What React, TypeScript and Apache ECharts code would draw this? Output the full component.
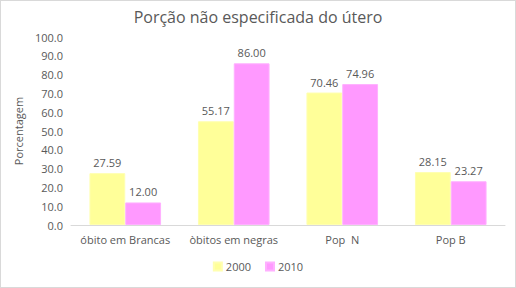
import React, { useEffect, useRef } from "react";
import * as echarts from "echarts";

const categories = ["óbito em Brancas", "òbitos em negras", "Pop  N", "Pop B"];
const series2000 = [27.59, 55.17, 70.46, 28.15];
const series2010 = [12.0, 86.0, 74.96, 23.27];
const seriesNames = ["2000", "2010"];
const titleText = "Porção não especificada do útero";
const yAxisName = "Porcentagem";

const FONT = "'Open Sans', 'Noto Sans', sans-serif";
const TXT = "#595959";

export default function App() {
  const ref = useRef<HTMLDivElement>(null);
  useEffect(() => {
    document.body.style.margin = "0";
    const chart = echarts.init(ref.current!, null, { renderer: "svg" });
    const label = {
      show: true,
      position: "top" as const,
      color: TXT,
      fontFamily: FONT,
      fontSize: 11,
      formatter: (p: any) => Number(p.value).toFixed(2),
    };
    chart.setOption({
      animation: false,
      textStyle: { fontFamily: FONT },
      title: {
        text: titleText,
        left: "center",
        top: 3,
        textStyle: { color: TXT, fontFamily: FONT, fontSize: 16, fontWeight: "normal" },
      },
      legend: {
        data: seriesNames,
        bottom: 10,
        left: "center",
        itemWidth: 8,
        itemHeight: 8,
        itemGap: 14,
        icon: "rect",
        textStyle: { color: TXT, fontFamily: FONT, fontSize: 11, padding: [0, 0, 0, -1] },
      },
      grid: { left: 70, right: 10, top: 36, bottom: 62 },
      xAxis: {
        type: "category",
        data: categories,
        axisLine: { lineStyle: { color: "#d9d9d9" } },
        axisTick: { show: false },
        axisLabel: { color: TXT, fontFamily: FONT, fontSize: 11, margin: 9, interval: 0 },
      },
      yAxis: {
        type: "value",
        min: 0,
        max: 100,
        interval: 10,
        name: yAxisName,
        nameLocation: "middle",
        nameGap: 29,
        nameTextStyle: { color: TXT, fontFamily: FONT, fontSize: 11 },
        axisLine: { show: false },
        axisTick: { show: false },
        splitLine: { show: false },
        axisLabel: {
          color: TXT,
          fontFamily: FONT,
          fontSize: 11,
          margin: 8,
          formatter: (v: number) => v.toFixed(1),
        },
      },
      series: [
        {
          name: seriesNames[0],
          type: "bar",
          data: series2000,
          barGap: "0%",
          barCategoryGap: "34%",
          itemStyle: { color: "#FFFF99", borderColor: "#FFFFB0", borderWidth: 1 },
          label,
        },
        {
          name: seriesNames[1],
          type: "bar",
          data: series2010,
          itemStyle: { color: "#FF99FF", borderColor: "#FFB0FF", borderWidth: 1 },
          label,
        },
      ],
    });
    return () => chart.dispose();
  }, []);
  return (
    <div
      ref={ref}
      style={{ width: 516, height: 288, boxSizing: "border-box", border: "1px solid #d9d9d9", background: "#fff" }}
    />
  );
}
